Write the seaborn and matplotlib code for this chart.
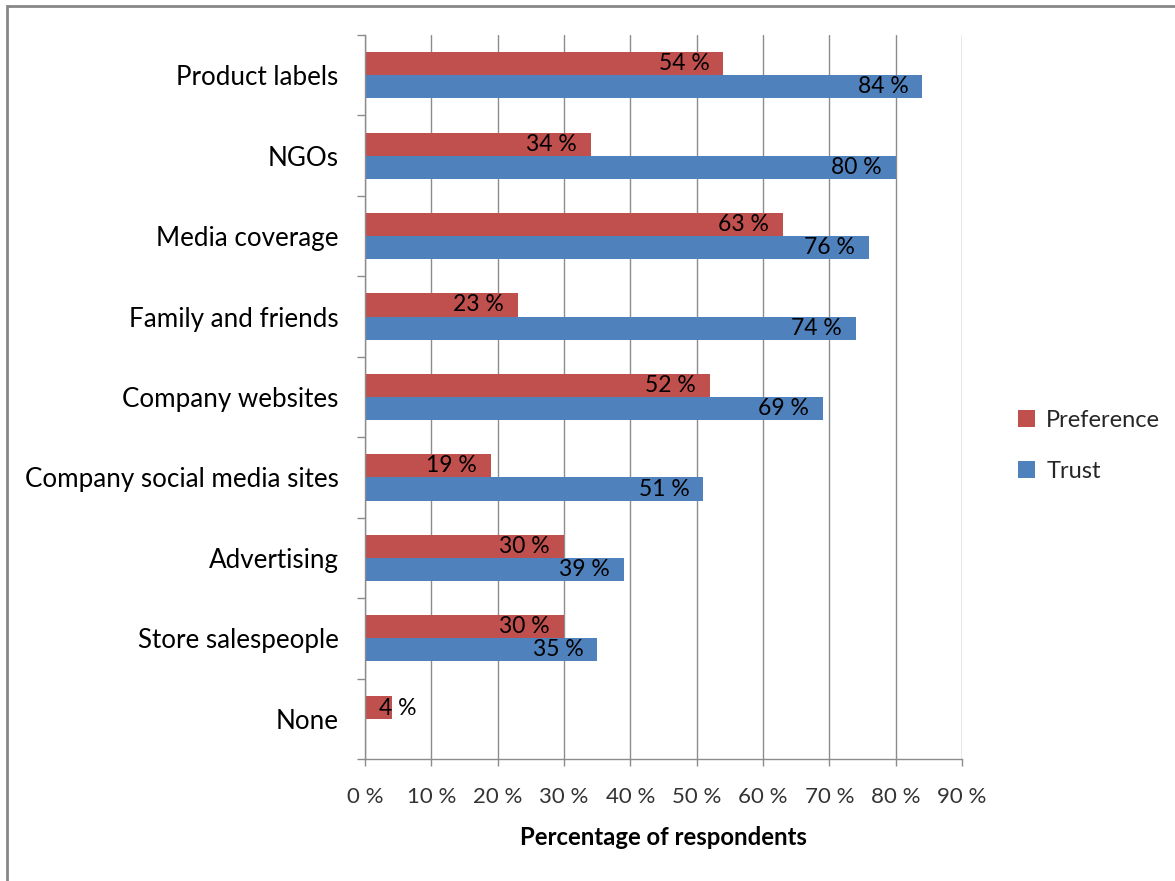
import numpy as np
import pandas as pd
import matplotlib
matplotlib.use("Agg")
import matplotlib.pyplot as plt
from matplotlib.patches import Rectangle, Patch
from matplotlib.ticker import FuncFormatter
import seaborn as sns

# Survey data: which information sources respondents prefer and trust
categories = ["Product labels", "NGOs", "Media coverage", "Family and friends",
              "Company websites", "Company social media sites", "Advertising",
              "Store salespeople", "None"]
preference = [54, 34, 63, 23, 52, 19, 30, 30, 4]
trust = [84, 80, 76, 74, 69, 51, 39, 35, np.nan]
series_names = ["Preference", "Trust"]
series_colors = ["#C0504D", "#4F81BD"]
x_ticks = list(range(0, 100, 10))

df = pd.DataFrame({
    "Source": categories * 2,
    "Share": preference + trust,
    "Series": [series_names[0]] * len(categories) + [series_names[1]] * len(categories),
})

sns.set_theme(style="white")
plt.rcParams["font.family"] = ["Lato", "DejaVu Sans"]

W, H = 1175, 881
fig = plt.figure(figsize=(W / 100, H / 100), dpi=100)
fig.patch.set_facecolor("white")
ax = fig.add_axes([365 / W, 1 - 759 / H, (962 - 365) / W, (759 - 35) / H])

grey = "#8c8c8c"

sns.barplot(data=df, x="Share", y="Source", hue="Series",
            order=categories, hue_order=series_names,
            palette=series_colors, saturation=1, orient="h",
            width=0.575, linewidth=0, errorbar=None, legend=False, ax=ax)

# Value labels at the inner end of each bar
for container in ax.containers:
    for patch in container:
        v = patch.get_width()
        if not np.isfinite(v) or v <= 0:
            continue
        yc = patch.get_y() + patch.get_height() / 2
        if v < 10:
            ax.annotate(f"{v:.0f} %", xy=(0, yc), xytext=(10, -1),
                        textcoords="offset points", ha="left", va="center",
                        fontsize=16.5, color="black")
        else:
            ax.annotate(f"{v:.0f} %", xy=(v, yc), xytext=(-10, 0),
                        textcoords="offset points", ha="right", va="center",
                        fontsize=16.5, color="black")

ax.set_xlim(0, 90)
ax.set_ylim(len(categories) - 0.5, -0.5)
ax.set_xticks(x_ticks)
ax.xaxis.set_major_formatter(FuncFormatter(lambda v, p: f"{v:.0f} %"))
ax.xaxis.grid(True, color=grey, linewidth=1)
ax.yaxis.grid(False)
ax.set_axisbelow(True)

ax.set_yticks(range(len(categories)))
ax.set_yticklabels(categories)
ax.set_yticks(np.arange(-0.5, len(categories), 1), minor=True)
ax.tick_params(axis="y", which="major", length=0, pad=19, labelsize=18.7, labelcolor="black")
ax.tick_params(axis="y", which="minor", length=6, width=1, color=grey, left=True)
ax.tick_params(axis="x", which="major", length=5, width=1, color=grey, bottom=True,
               direction="out", pad=15, labelsize=16, labelcolor="#333333")

for side in ["top", "right"]:
    ax.spines[side].set_visible(False)
for side in ["left", "bottom"]:
    ax.spines[side].set_color(grey)
    ax.spines[side].set_linewidth(1)

ax.set_ylabel("")
ax.set_xlabel("Percentage of respondents", fontsize=17.2, fontweight="bold",
              color="black", labelpad=14)

handles = [Patch(facecolor=c, edgecolor="none") for c in series_colors]
ax.legend(handles, series_names, loc="upper left",
          bbox_to_anchor=(1018 / W, 1 - 410 / H), bbox_transform=fig.transFigure,
          frameon=False, fontsize=17, handlelength=0.7, handleheight=0.7,
          handletextpad=0.5, labelspacing=1.25, borderaxespad=0, borderpad=0)

# Outer chart frame
fig.add_artist(Rectangle((7 / W, -0.5), 2.0, 1 - 6 / H + 0.5,
                         transform=fig.transFigure, fill=False,
                         edgecolor="#878787", linewidth=2))

fig.savefig("out.png", dpi=100)
